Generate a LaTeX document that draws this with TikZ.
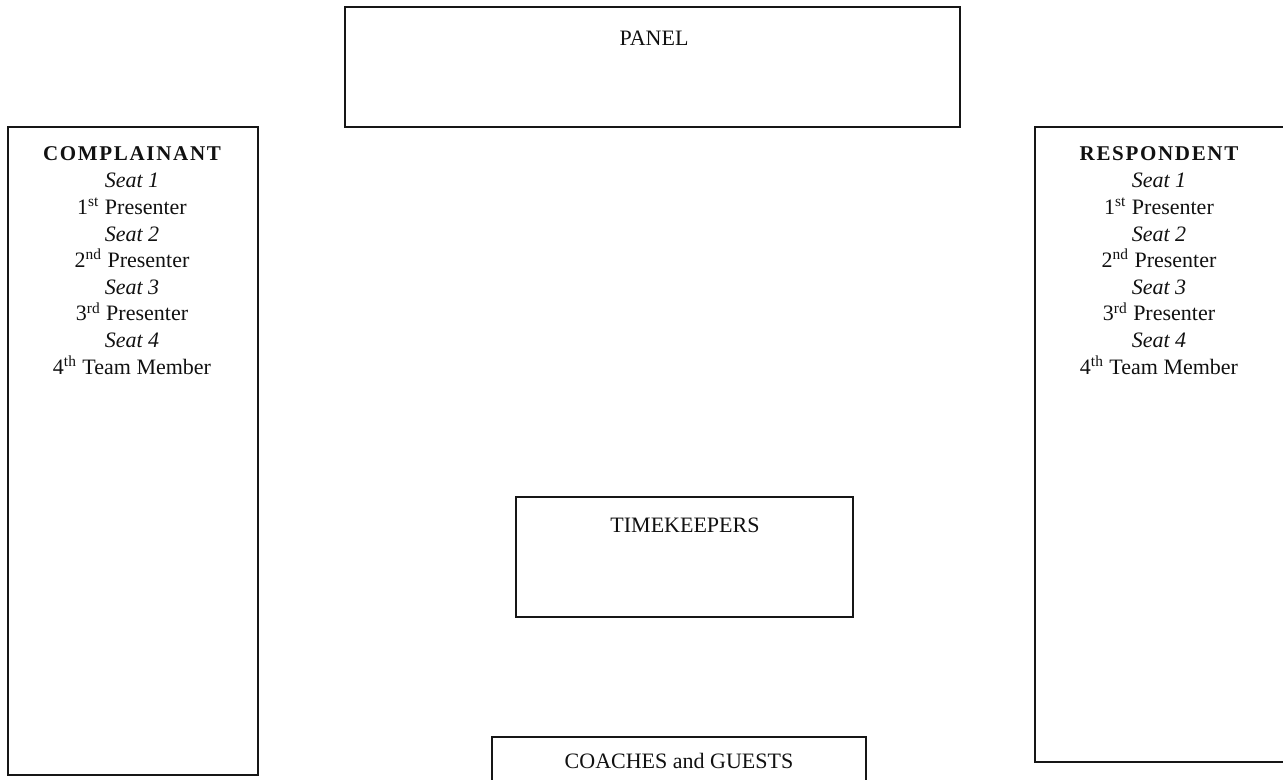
\documentclass[tikz,border=0pt]{standalone}
\usepackage{fontspec}
\setmainfont{Liberation Serif}
\usepackage{xcolor}
\usepackage{tikz}
\definecolor{edge}{HTML}{161616}
\definecolor{ink}{HTML}{111111}
\tikzset{room/.style={x=0.5pt,y=-0.5pt,line join=miter},
  desk/.style={draw=edge,line width=0.9pt},
  lbl/.style={anchor=base,inner sep=0pt,text=ink,font=\fontsize{11}{13}\selectfont},
  side/.style={lbl,font=\fontsize{10.5}{13}\selectfont\bfseries\addfontfeatures{LetterSpace=8}},
  seatno/.style={lbl,font=\fontsize{11}{13}\selectfont\itshape}}

\begin{document}
\begin{tikzpicture}[room]
  \useasboundingbox(0,0)rectangle(1283,780);
  % front of the room
  \draw[desk](345,7)rectangle(960,127);\node[lbl](panel)at(654,46){PANEL};
  \draw[desk](516,497)rectangle(853,617);\node[lbl](time)at(685,532){TIMEKEEPERS};
  \draw[desk](492,737)rectangle(866,800);\node[lbl](guests)at(679,768){COACHES and GUESTS};
  % the two teams
  \begin{scope}\draw[desk](8,127)rectangle(258,775);
   \node[side](cmpl)at(132,161){COMPLAINANT};
   \node[seatno](cmplsa)at(132,188){Seat 1};\node[lbl](cmplpa)at(132,214.6){1\textsuperscript{st} Presenter};
   \node[seatno](cmplsb)at(132,241.2){Seat 2};\node[lbl](cmplpb)at(132,267.8){2\textsuperscript{nd} Presenter};
   \node[seatno](cmplsc)at(132,294.4){Seat 3};\node[lbl](cmplpc)at(132,321){3\textsuperscript{rd} Presenter};
   \node[seatno](cmplsd)at(132,347.6){Seat 4};\node[lbl](cmplpd)at(132,374.2){4\textsuperscript{th} Team Member};\end{scope}
  \begin{scope}[shift={(1027,0)}]\draw[desk](8,127)rectangle(258,762);
   \node[side](resp)at(132,161){RESPONDENT};
   \node[seatno](respsa)at(132,188){Seat 1};\node[lbl](resppa)at(132,214.6){1\textsuperscript{st} Presenter};
   \node[seatno](respsb)at(132,241.2){Seat 2};\node[lbl](resppb)at(132,267.8){2\textsuperscript{nd} Presenter};
   \node[seatno](respsc)at(132,294.4){Seat 3};\node[lbl](resppc)at(132,321){3\textsuperscript{rd} Presenter};
   \node[seatno](respsd)at(132,347.6){Seat 4};\node[lbl](resppd)at(132,374.2){4\textsuperscript{th} Team Member};\end{scope}
\end{tikzpicture}
\end{document}
